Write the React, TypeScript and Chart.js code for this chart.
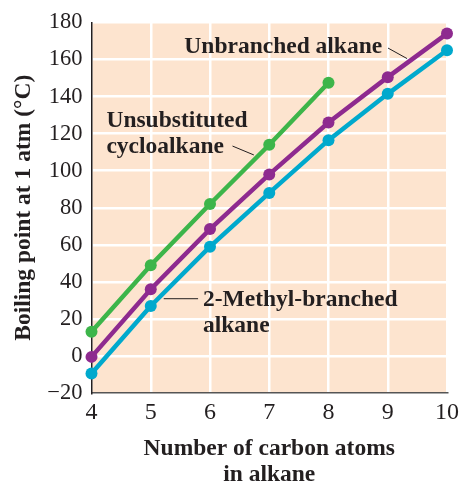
import React, { useEffect, useRef } from "react";
import { Chart, registerables } from "chart.js";

Chart.register(...registerables);

const carbonAtoms = [4, 5, 6, 7, 8, 9, 10];
const cycloalkane = [13, 49, 82, 114, 147.5, null, null];
const unbranched = [-0.5, 36, 68.5, 98, 126, 150.5, 174];
const methylBranched = [-9.5, 27, 59, 88, 116.5, 141.5, 165];
const yTicks = [-20, 0, 20, 40, 60, 80, 100, 120, 140, 160, 180];
const yTickLabels = ["\u221220", "0", "20", "40", "60", "80", "100", "120", "140", "160", "180"];

const GREEN = "#3db54a";
const PURPLE = "#8e2a8f";
const CYAN = "#00a9cd";
const PEACH = "#fde4cf";
const SERIF = "'Liberation Serif', 'Times New Roman', serif";
const BOLD_SIZE = 23.5;

// annotations placed in data coordinates
const annotations = [
  { lines: ["Unbranched alkane"], x: 5.567, y: 163.6, lead: [9.005, 166.2, 9.327, 160.5] },
  { lines: ["Unsubstituted", "cycloalkane"], x: 4.252, y: 123.5, lead: [6.38, 113.3, 6.74, 108.5] },
  { lines: ["2-Methyl-branched", "alkane"], x: 5.882, y: 26.8, lead: [5.219, 30.9, 5.799, 30.9] },
];

const bgPlugin = {
  id: "bg",
  beforeDraw(chart: any) {
    const { ctx, chartArea: a } = chart;
    ctx.save();
    ctx.fillStyle = PEACH;
    ctx.fillRect(a.left, a.top, a.right - a.left, a.bottom - a.top);
    ctx.restore();
  },
};

const annoPlugin = {
  id: "anno",
  afterDatasetsDraw(chart: any) {
    const { ctx, scales } = chart;
    const xs = scales.x, ys = scales.y;
    const px = (v: number) => xs.left + ((v - 4) / 6) * (xs.right - xs.left);
    ctx.save();
    ctx.fillStyle = "#231f20";
    ctx.font = `bold ${BOLD_SIZE}px ${SERIF}`;
    ctx.textAlign = "left";
    ctx.textBaseline = "alphabetic";
    for (const a of annotations) {
      const x0 = px(a.x);
      const y0 = ys.getPixelForValue(a.y);
      a.lines.forEach((t, i) => ctx.fillText(t, x0, y0 + i * 25.5));
      const [x1, y1, x2, y2] = a.lead;
      ctx.beginPath();
      ctx.strokeStyle = "#231f20";
      ctx.lineWidth = 1;
      ctx.moveTo(px(x1), ys.getPixelForValue(y1));
      ctx.lineTo(px(x2), ys.getPixelForValue(y2));
      ctx.stroke();
    }
    ctx.restore();
  },
};

export default function App() {
  const ref = useRef<HTMLCanvasElement>(null);
  useEffect(() => {
    const mk = (label: string, data: any[], color: string) => ({
      label,
      data,
      borderColor: color,
      backgroundColor: color,
      borderWidth: 4.5,
      pointRadius: 6,
      pointBorderWidth: 0,
      pointHoverRadius: 6,
      tension: 0,
      clip: false as any,
      spanGaps: false,
    });
    const chart = new Chart(ref.current!, {
      type: "line",
      data: {
        labels: carbonAtoms.map(String),
        datasets: [
          mk("Unsubstituted cycloalkane", cycloalkane, GREEN),
          mk("Unbranched alkane", unbranched, PURPLE),
          mk("2-Methyl-branched alkane", methylBranched, CYAN),
        ],
      },
      options: {
        animation: false,
        responsive: false,
        devicePixelRatio: 1,
        layout: { padding: { top: 21, right: 10.7, left: 0, bottom: 0 } },
        plugins: { legend: { display: false }, tooltip: { enabled: false } },
        scales: {
          x: {
            type: "category",
            offset: false,
            grid: { color: "#ffffff", lineWidth: 2.5, drawTicks: false },
            border: { display: true, color: "#555555", width: 1.5 },
            ticks: { color: "#231f20", font: { family: SERIF, size: 24 }, padding: 5 },
            title: {
              display: true,
              text: ["Number of carbon atoms", "in alkane"],
              color: "#231f20",
              font: { family: SERIF, size: BOLD_SIZE, weight: "bold", lineHeight: 1.13 },
              padding: { top: 0, bottom: -5.5 },
            },
            afterFit(scale: any) {
              scale.height = 90;
            },
          },
          y: {
            min: -20,
            max: 180,
            grid: { color: "#ffffff", lineWidth: 2.5, drawTicks: false },
            border: { display: true, color: "#231f20", width: 1.5 },
            afterBuildTicks(scale: any) {
              scale.ticks = yTicks.map((v) => ({ value: v }));
            },
            ticks: {
              color: "#231f20",
              font: { family: SERIF, size: 22.5 },
              padding: 9,
              callback: (v: any) => {
                const i = yTicks.indexOf(Number(v));
                return i >= 0 ? yTickLabels[i] : "";
              },
            },
            title: {
              display: true,
              text: "Boiling point at 1 atm (\u00b0C)",
              color: "#231f20",
              font: { family: SERIF, size: BOLD_SIZE, weight: "bold", lineHeight: 1.13 },
              padding: { top: 11, bottom: 0 },
            },
            afterFit(scale: any) {
              scale.width = 91.5;
            },
          },
        },
      },
      plugins: [bgPlugin, annoPlugin],
    });
    return () => chart.destroy();
  }, []);
  return (
    <div style={{ position: "fixed", left: 0, top: 0, width: 464, height: 483, background: "#fff" }}>
      <canvas ref={ref} width={464} height={483} style={{ display: "block", width: 464, height: 483 }} />
    </div>
  );
}
